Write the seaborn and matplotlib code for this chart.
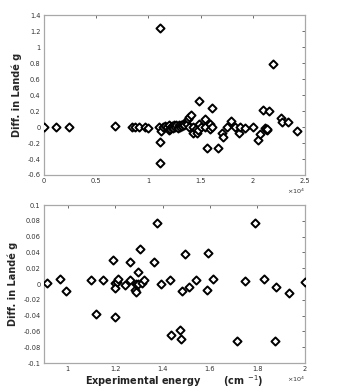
import matplotlib
matplotlib.use("Agg")
import matplotlib.pyplot as plt
import seaborn as sns
import pandas as pd

# Top panel: energy (x 10^4 cm^-1) vs difference in Lande g
top_energy = [0.0, 0.115, 0.236, 0.677, 0.84, 0.87, 0.91, 0.97, 1.0,
              1.10, 1.115, 1.115, 1.115, 1.12,
              1.14, 1.16, 1.18, 1.20, 1.20, 1.21, 1.22, 1.23, 1.24, 1.25, 1.26,
              1.27, 1.28, 1.29, 1.30, 1.31, 1.32, 1.33, 1.34,
              1.37, 1.38, 1.39, 1.39, 1.41, 1.43, 1.43, 1.46, 1.47, 1.48, 1.485,
              1.49, 1.50, 1.54, 1.545, 1.558, 1.59, 1.59, 1.61, 1.612,
              1.67, 1.71, 1.72, 1.75, 1.79, 1.83, 1.87, 1.88, 1.93, 2.0,
              2.05, 2.07, 2.10, 2.12, 2.13, 2.135, 2.14, 2.16, 2.196,
              2.27, 2.28, 2.34, 2.42]
top_diff = [0.0, 0.0, 0.0, 0.01, 0.0, 0.0, 0.0, 0.0, -0.01,
            0.0, 1.24, -0.19, -0.455, -0.045,
            0.0, 0.01, 0.0, 0.03, -0.04, -0.02, 0.0, 0.01, -0.01, 0.02, 0.0,
            0.03, -0.01, 0.02, 0.0, 0.03, 0.01, 0.04, 0.02,
            0.04, 0.10, 0.12, 0.0, 0.15, -0.07, 0.0, -0.03, -0.08, -0.035, 0.32,
            0.04, 0.0, 0.105, 0.0, -0.26, 0.04, -0.02, 0.0, 0.24,
            -0.26, -0.07, -0.12, 0.0, 0.07, 0.0, -0.08, 0.0, -0.01, 0.0,
            -0.16, -0.09, 0.21, -0.01, -0.03, -0.04, -0.02, 0.20, 0.79,
            0.11, 0.06, 0.06, -0.05]

# Bottom panel
bot_energy = [0.911, 0.969, 0.994, 1.10, 1.15, 1.118, 1.193, 1.20, 1.20, 1.20,
              1.206, 1.214, 1.241, 1.262, 1.264, 1.283, 1.289, 1.29, 1.295,
              1.296, 1.303, 1.313, 1.322, 1.365, 1.375, 1.392, 1.433, 1.436,
              1.475, 1.477, 1.481, 1.496, 1.51, 1.543, 1.587, 1.59, 1.612,
              1.712, 1.749, 1.788, 1.829, 1.873, 1.879, 1.934, 1.999]
bot_diff = [0.0017, 0.0068, -0.0093, 0.0055, 0.0055, -0.0376, 0.031, 0.0013,
            -0.0046, -0.042, 0.0025, 0.006, -0.0013, 0.028, 0.0046, -0.008,
            -0.0097, 0.0004, 0.015, -0.0004, 0.0447, 0.0013, 0.0046, 0.028,
            0.0768, -0.0004, 0.0055, -0.065, -0.0578, -0.0696, -0.0084, 0.0376,
            -0.0034, 0.0046, -0.0072, 0.0388, 0.006, -0.072, 0.0038, 0.0768,
            0.0068, -0.072, -0.0042, -0.0114, 0.0025]

top_xticks = [0, 0.5, 1, 1.5, 2, 2.5]
top_yticks = [-0.6, -0.4, -0.2, 0, 0.2, 0.4, 0.6, 0.8, 1, 1.2, 1.4]
bot_xticks = [1, 1.2, 1.4, 1.6, 1.8, 2]
bot_yticks = [-0.1, -0.08, -0.06, -0.04, -0.02, 0, 0.02, 0.04, 0.06, 0.08, 0.1]

sns.set_style("white")
plt.rcParams['font.family'] = ['DejaVu Sans']

fig = plt.figure(figsize=(3.38, 3.88), dpi=100)
ax1 = fig.add_axes([0.130, 0.549, 0.772, 0.412])
ax2 = fig.add_axes([0.130, 0.0644, 0.772, 0.407])

def fmt(v):
    return "%g" % v

def style(ax, xt, yt, xlim, ylim):
    ax.set_xlim(*xlim)
    ax.set_ylim(*ylim)
    ax.set_xticks(xt)
    ax.set_yticks(yt)
    ax.set_xticklabels([fmt(v) for v in xt])
    ax.set_yticklabels([fmt(v) for v in yt])
    ax.tick_params(direction='in', length=2.5, width=0.6, colors='#555555',
                   labelsize=4.8, top=True, right=True, pad=2.5)
    for tl in ax.get_xticklabels() + ax.get_yticklabels():
        tl.set_color('#333333')
    for sp in ax.spines.values():
        sp.set_visible(True)
        sp.set_color('#a8a8a8')
        sp.set_linewidth(0.9)
    ax.set_xlabel("")
    ax.set_ylabel("Diff. in Landé g", fontsize=7, fontweight='bold',
                  family=['Liberation Sans Narrow', 'DejaVu Sans'], labelpad=4)

df1 = pd.DataFrame({"energy": top_energy, "diff": top_diff})
df2 = pd.DataFrame({"energy": bot_energy, "diff": bot_diff})

kw = dict(marker='D', s=17, facecolor='white', edgecolor='black',
          linewidth=1.4, zorder=3, legend=False)
sns.scatterplot(data=df1, x="energy", y="diff", ax=ax1, **kw)
sns.scatterplot(data=df2, x="energy", y="diff", ax=ax2, **kw)

style(ax1, top_xticks, top_yticks, (0, 2.5), (-0.6, 1.4))
style(ax2, bot_xticks, bot_yticks, (0.9, 2.0), (-0.1, 0.1))

for ax in (ax1, ax2):
    ax.text(1.0, -0.105, r"$\times10^{4}$", transform=ax.transAxes,
            ha='right', va='center', fontsize=4.6, color='#333333')

ax2.set_xlabel(r"Experimental energy       (cm $^{-1}$)", fontsize=7,
               fontweight='bold', color='#222222', labelpad=0.5)

fig.savefig("out.png", dpi=100)
